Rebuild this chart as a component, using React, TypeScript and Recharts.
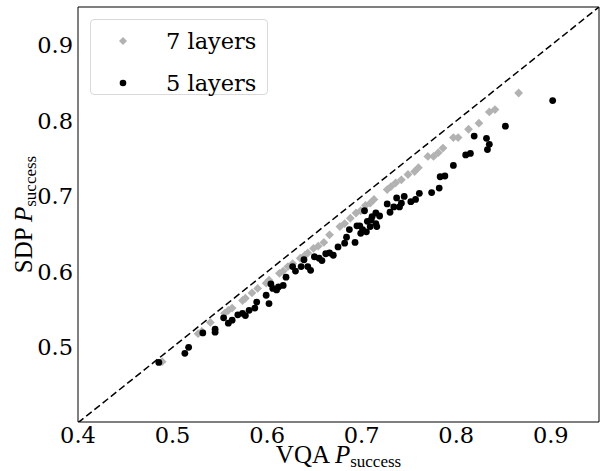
import React from "react"
import { ScatterChart, Scatter, XAxis, YAxis, ReferenceLine, ReferenceArea, Legend } from "recharts"

// 7 layers (grey diamonds)
const sevenX = [0.489, 0.527, 0.531, 0.54, 0.555, 0.559, 0.563, 0.574, 0.577, 0.584, 0.59, 0.599, 0.602, 0.613, 0.617, 0.622, 0.627, 0.635, 0.64, 0.643, 0.649, 0.654, 0.66, 0.666, 0.677, 0.682, 0.688, 0.694, 0.699, 0.704, 0.709, 0.713, 0.727, 0.731, 0.736, 0.742, 0.749, 0.756, 0.76, 0.77, 0.776, 0.781, 0.786, 0.797, 0.802, 0.813, 0.824, 0.835, 0.841, 0.866]
const sevenY = [0.481, 0.518, 0.521, 0.533, 0.545, 0.549, 0.552, 0.562, 0.565, 0.572, 0.578, 0.585, 0.589, 0.598, 0.601, 0.607, 0.611, 0.618, 0.622, 0.625, 0.631, 0.634, 0.639, 0.649, 0.66, 0.664, 0.671, 0.678, 0.681, 0.688, 0.691, 0.696, 0.709, 0.713, 0.718, 0.722, 0.729, 0.733, 0.738, 0.753, 0.753, 0.758, 0.764, 0.778, 0.778, 0.789, 0.797, 0.812, 0.815, 0.837]

// 5 layers (black dots)
const fiveX = [0.4855, 0.513, 0.517, 0.532, 0.545, 0.545, 0.554, 0.559, 0.563, 0.569, 0.574, 0.577, 0.587, 0.589, 0.599, 0.602, 0.581, 0.604, 0.606, 0.61, 0.612, 0.617, 0.62, 0.627, 0.63, 0.636, 0.639, 0.643, 0.646, 0.65, 0.655, 0.658, 0.662, 0.666, 0.67, 0.675, 0.682, 0.684, 0.687, 0.693, 0.695, 0.698, 0.699, 0.703, 0.701, 0.705, 0.706, 0.709, 0.71, 0.711, 0.715, 0.716, 0.719, 0.715, 0.727, 0.73, 0.734, 0.737, 0.74, 0.742, 0.745, 0.752, 0.757, 0.761, 0.774, 0.782, 0.783, 0.788, 0.797, 0.81, 0.815, 0.819, 0.832, 0.833, 0.835, 0.852, 0.902]
const fiveY = [0.48, 0.492, 0.5, 0.519, 0.52, 0.524, 0.539, 0.532, 0.536, 0.543, 0.545, 0.542, 0.552, 0.56, 0.569, 0.558, 0.549, 0.584, 0.578, 0.576, 0.58, 0.582, 0.593, 0.607, 0.601, 0.607, 0.616, 0.607, 0.602, 0.62, 0.618, 0.615, 0.624, 0.625, 0.622, 0.633, 0.638, 0.646, 0.656, 0.639, 0.661, 0.661, 0.651, 0.681, 0.656, 0.653, 0.667, 0.66, 0.669, 0.673, 0.678, 0.66, 0.674, 0.664, 0.69, 0.679, 0.686, 0.698, 0.686, 0.691, 0.7, 0.693, 0.696, 0.704, 0.705, 0.711, 0.726, 0.727, 0.741, 0.755, 0.757, 0.78, 0.777, 0.762, 0.769, 0.793, 0.827]

const xTicks = [0.4, 0.5, 0.6, 0.7, 0.8, 0.9]
const yTicks = [0.5, 0.6, 0.7, 0.8, 0.9]
const seriesNames = ["7 layers", "5 layers"]

const GREY = "#b2b2b2"
const tickFont = { fontFamily: "DejaVu Serif", fontSize: 22.5, fill: "#000" }
const labelFont = "Liberation Serif"

const sevenData = sevenX.map((x, i) => ({ x, y: sevenY[i] }))
const fiveData = fiveX.map((x, i) => ({ x, y: fiveY[i] }))

const Diamond = (props: any) => {
  const { cx, cy } = props
  const s = 4.4
  return <polygon points={`${cx},${cy - s} ${cx + s},${cy} ${cx},${cy + s} ${cx - s},${cy}`} fill={GREY} />
}

const Dot = (props: any) => <circle cx={props.cx} cy={props.cy} r={3.4} fill="#000" />

const AxisTitle = ({ x, y, name, rotate }: { x: number; y: number; name: string; rotate?: boolean }) => (
  <text
    x={x}
    y={y}
    textAnchor="middle"
    fontFamily={labelFont}
    fontSize={25}
    fill="#000"
    transform={rotate ? `rotate(-90, ${x}, ${y})` : undefined}
  >
    <tspan>{name} </tspan>
    <tspan fontStyle="italic">P</tspan>
    <tspan fontSize={17} dy={4}>success</tspan>
  </text>
)

const LegendBox = () => (
  <div
    style={{
      width: 176,
      height: 74,
      border: "1px solid #d9d9d9",
      borderRadius: 4,
      background: "rgba(255,255,255,0.8)",
      position: "relative",
    }}
  >
    {seriesNames.map((name, i) => (
      <div key={name} style={{ position: "absolute", left: 0, top: 6 + i * 42, height: 30, width: 176 }}>
        <svg width={40} height={30} style={{ position: "absolute", left: 16, top: 0 }}>
          {i === 0 ? (
            <polygon points="16,11 20,15 16,19 12,15" fill={GREY} />
          ) : (
            <circle cx={16} cy={15} r={3.3} fill="#000" />
          )}
        </svg>
        <span
          style={{
            position: "absolute",
            left: 75,
            top: 0,
            lineHeight: "30px",
            fontFamily: "DejaVu Serif",
            fontSize: 22.5,
            color: "#000",
            whiteSpace: "nowrap",
          }}
        >
          {name}
        </span>
      </div>
    ))}
  </div>
)

export default function App() {
  return (
    <div style={{ position: "absolute", left: 0, top: 0, width: 600, height: 471, background: "#fff" }}>
      <ScatterChart width={600} height={471} margin={{ top: 7, right: 1, left: 0, bottom: 0 }}>
        <XAxis
          type="number"
          dataKey="x"
          domain={[0.4, 0.951]}
          ticks={xTicks}
          allowDataOverflow
          height={49}
          axisLine={false}
          tickLine={false}
          tickSize={0}
          tickMargin={5}
          tick={tickFont}
          tickFormatter={(v: number) => v.toFixed(1)}
          label={{
            content: (p: any) => (
              <AxisTitle x={p.viewBox.x + p.viewBox.width / 2} y={p.viewBox.y + 41} name="VQA" />
            ),
          }}
        />
        <YAxis
          type="number"
          dataKey="y"
          domain={[0.401, 0.951]}
          ticks={yTicks}
          allowDataOverflow
          width={78}
          axisLine={false}
          tickLine={false}
          tickSize={0}
          tickMargin={5}
          tick={tickFont}
          tickFormatter={(v: number) => v.toFixed(1)}
          label={{
            content: (p: any) => (
              <AxisTitle x={32} y={p.viewBox.y + p.viewBox.height / 2} name="SDP" rotate />
            ),
          }}
        />
        <ReferenceLine
          segment={[
            { x: 0.4, y: 0.4 },
            { x: 0.951, y: 0.951 },
          ]}
          stroke="#000"
          strokeWidth={1.5}
          strokeDasharray="7 3.5"
          ifOverflow="hidden"
        />
        <Scatter name="7 layers" data={sevenData} fill={GREY} shape={Diamond} isAnimationActive={false} />
        <Scatter name="5 layers" data={fiveData} fill="#000" shape={Dot} isAnimationActive={false} />
        <ReferenceArea x1={0.4} x2={0.951} y1={0.401} y2={0.951} fill="none" stroke="#000" strokeWidth={1} ifOverflow="visible" />
        <Legend
          layout="horizontal"
          verticalAlign="middle"
          align="center"
          content={LegendBox}
          wrapperStyle={{ position: "absolute", top: 19, left: 90, width: 178, height: 76 }}
        />
      </ScatterChart>
    </div>
  )
}
